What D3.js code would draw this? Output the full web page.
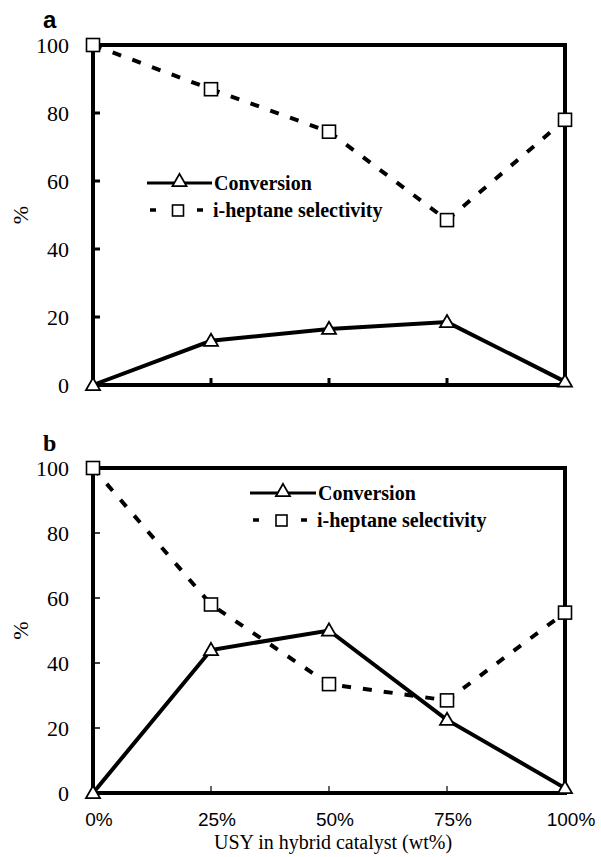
<!DOCTYPE html>
<html>
<head>
<meta charset="utf-8">
<script src="https://cdn.jsdelivr.net/npm/d3@7"></script>
<style>
  body { margin: 0; background: #fff; }
  svg { display: block; }
</style>
</head>
<body>
<div id="chart"></div>
<script>
const categories = ["0%", "25%", "50%", "75%", "100%"];
const yTicks = [0, 20, 40, 60, 80, 100];

// panel a
const conversionA = [0, 13, 16.5, 18.5, 1];
const selectivityA = [100, 87, 74.5, 48.5, 78];
// panel b
const conversionB = [0, 44, 50, 22.5, 1.5];
const selectivityB = [100, 58, 33.5, 28.5, 55.5];

const W = 601, H = 857;
const left = 93, right = 565;

const svg = d3.select("#chart").append("svg")
    .attr("width", W)
    .attr("height", H);

const x = d3.scalePoint()
    .domain(categories)
    .range([left, right]);

const panels = [
    {label: "a", top: 45, bottom: 385, conv: conversionA, sel: selectivityA,
     letterFont: "Liberation Sans, Arial, sans-serif",
     legend: {x: 147, y: 183, lineEnd: 212}},
    {label: "b", top: 468, bottom: 793, conv: conversionB, sel: selectivityB,
     letterFont: "Liberation Serif, serif",
     legend: {x: 250, y: 493, lineEnd: 316}}
];

const tri = d3.symbol().type(d3.symbolTriangle).size(85);

panels.forEach(function(p) {
    const y = d3.scaleLinear().domain([0, 100]).range([p.bottom, p.top]);
    const g = svg.append("g");

    // y tick labels
    g.selectAll(".ylab")
        .data(yTicks)
        .join("text")
        .attr("x", 69)
        .attr("y", d => y(d))
        .attr("dy", "0.35em")
        .attr("text-anchor", "end")
        .style("font-family", "Liberation Serif, serif")
        .style("font-size", "22px")
        .text(d => d);

    // inward ticks
    g.selectAll(".ytick")
        .data(yTicks.slice(1, -1))
        .join("line")
        .attr("x1", left)
        .attr("x2", left + 7)
        .attr("y1", d => y(d))
        .attr("y2", d => y(d))
        .attr("stroke", "#000")
        .attr("stroke-width", p.label === "a" ? 3 : 1.5);

    g.selectAll(".xtick")
        .data(categories.slice(1, -1))
        .join("line")
        .attr("x1", d => x(d))
        .attr("x2", d => x(d))
        .attr("y1", p.bottom)
        .attr("y2", p.bottom - 7)
        .attr("stroke", "#000")
        .attr("stroke-width", p.label === "a" ? 3 : 1.2);

    // frame
    g.append("rect")
        .attr("x", left)
        .attr("y", p.top)
        .attr("width", right - left)
        .attr("height", p.bottom - p.top)
        .attr("fill", "none")
        .attr("stroke", "#000")
        .attr("stroke-width", 4);

    // panel letter
    g.append("text")
        .attr("x", 43)
        .attr("y", p.top - 17)
        .style("font-family", p.letterFont)
        .style("font-weight", "bold")
        .style("font-size", "24px")
        .text(p.label);

    // y title
    g.append("text")
        .attr("transform", `translate(28,${(p.top + p.bottom) / 2}) rotate(-90)`)
        .attr("text-anchor", "middle")
        .style("font-family", "Liberation Serif, serif")
        .style("font-size", "22px")
        .text("%");

    const line = d3.line()
        .x((d, i) => x(categories[i]))
        .y(d => y(d));

    g.append("path")
        .datum(p.sel)
        .attr("d", line)
        .attr("fill", "none")
        .attr("stroke", "#000")
        .attr("stroke-width", 4)
        .attr("stroke-dasharray", "9,12");

    g.append("path")
        .datum(p.conv)
        .attr("d", line)
        .attr("fill", "none")
        .attr("stroke", "#000")
        .attr("stroke-width", 4);

    g.selectAll(".tri")
        .data(p.conv)
        .join("path")
        .attr("d", tri)
        .attr("transform", (d, i) => `translate(${x(categories[i])},${y(d) + 1})`)
        .attr("fill", "#fff")
        .attr("stroke", "#000")
        .attr("stroke-width", 1.8);

    g.selectAll(".sq")
        .data(p.sel)
        .join("rect")
        .attr("x", (d, i) => x(categories[i]) - 6.5)
        .attr("y", d => y(d) - 6.5)
        .attr("width", 13)
        .attr("height", 13)
        .attr("fill", "#fff")
        .attr("stroke", "#000")
        .attr("stroke-width", 1.6);

    // legend
    const L = p.legend;
    const lg = g.append("g");
    lg.append("line")
        .attr("x1", L.x).attr("x2", L.lineEnd)
        .attr("y1", L.y).attr("y2", L.y)
        .attr("stroke", "#000").attr("stroke-width", 3);
    lg.append("path")
        .attr("d", tri)
        .attr("transform", `translate(${(L.x + L.lineEnd) / 2},${L.y - 1})`)
        .attr("fill", "#fff").attr("stroke", "#000").attr("stroke-width", 1.8);
    lg.append("text")
        .attr("x", L.lineEnd + 2).attr("y", L.y).attr("dy", "0.35em")
        .style("font-family", "Liberation Serif, serif")
        .style("font-weight", "bold")
        .style("font-size", "20px")
        .text("Conversion");

    const y2 = L.y + 27;
    [[L.x + 3, L.x + 9], [L.lineEnd - 15, L.lineEnd - 9]].forEach(function(seg) {
        lg.append("line")
            .attr("x1", seg[0]).attr("x2", seg[1])
            .attr("y1", y2).attr("y2", y2)
            .attr("stroke", "#000").attr("stroke-width", 3.5);
    });
    lg.append("rect")
        .attr("x", (L.x + L.lineEnd) / 2 - 5 - 2)
        .attr("y", y2 - 5)
        .attr("width", 11).attr("height", 11)
        .attr("fill", "#fff").attr("stroke", "#000").attr("stroke-width", 1.6);
    lg.append("text")
        .attr("x", L.lineEnd + 1).attr("y", y2).attr("dy", "0.35em")
        .style("font-family", "Liberation Serif, serif")
        .style("font-weight", "bold")
        .style("font-size", "20px")
        .text("i-heptane selectivity");
});

// x axis labels (bottom panel only)
svg.selectAll(".xlab")
    .data(categories)
    .join("text")
    .attr("x", d => x(d) + 6)
    .attr("y", 819)
    .attr("dy", "0.35em")
    .attr("text-anchor", "middle")
    .style("font-family", "Liberation Sans, Arial, sans-serif")
    .style("font-size", "19px")
    .text(d => d);

svg.append("text")
    .attr("x", (left + right) / 2 + 4)
    .attr("y", 849)
    .attr("text-anchor", "middle")
    .style("font-family", "Liberation Serif, serif")
    .style("font-size", "20px")
    .text("USY in hybrid catalyst (wt%)");
</script>
</body>
</html>
